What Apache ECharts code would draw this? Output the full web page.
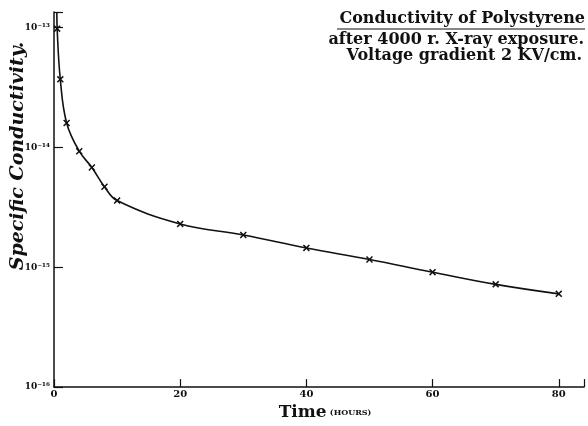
<!DOCTYPE html>
<html><head><meta charset="utf-8">
<script src="https://cdn.jsdelivr.net/npm/echarts@6/dist/echarts.min.js"></script>
<style>html,body{margin:0;padding:0;background:#fff}#c{width:588px;height:426px}</style>
</head><body><div id="c"></div>
<script>
// Time in hours
const times = [0.45, 0.5, 1, 2, 4, 6, 8, 10, 20, 30, 40, 50, 60, 70, 80];
// Specific conductivity (first value = where the drawn curve starts, no marker)
const conductivity = [1.35e-13, 9.8e-14, 3.7e-14, 1.6e-14, 9.3e-15, 6.8e-15, 4.7e-15, 3.6e-15, 2.3e-15, 1.86e-15, 1.45e-15, 1.16e-15, 9.1e-16, 7.2e-16, 6.0e-16];
const markerShown = [false, true, true, true, true, true, true, true, true, true, true, true, true, true, true];
const xTicks = [0, 20, 40, 60, 80];
const yTickExponents = [-16, -15, -14, -13];
const titleLines = ['Conductivity of Polystyrene', 'after 4000 r. X-ray exposure.', 'Voltage gradient 2 KV/cm.'];

const sup = {'-':'\u207B','0':'\u2070','1':'\u00B9','2':'\u00B2','3':'\u00B3','4':'\u2074','5':'\u2075','6':'\u2076','7':'\u2077','8':'\u2078','9':'\u2079'};
const toSup = s => String(s).split('').map(c => sup[c] || c).join('');

const xPath = 'path://M0,1.5L1.5,0L5,3.5L8.5,0L10,1.5L6.5,5L10,8.5L8.5,10L5,6.5L1.5,10L0,8.5L3.5,5Z';
const data = times.map((t, i) => ({
  value: [t, conductivity[i]],
  symbol: markerShown[i] ? xPath : 'none'
}));

const hand = '"DejaVu Serif", serif';
const chart = echarts.init(document.getElementById('c'));
chart.setOption({
  backgroundColor: '#fff',
  animation: false,
  grid: {left: 54, right: 4, top: 12, bottom: 24},
  xAxis: {
    type: 'value', min: 0, max: 84, interval: 20,
    axisLine: {lineStyle: {color: '#111', width: 1.5}},
    axisTick: {inside: true, length: 8, lineStyle: {color: '#111', width: 1.2}},
    splitLine: {show: false},
    axisLabel: {
      color: '#111', fontFamily: hand, fontWeight: 'bold', fontSize: 10, margin: 2,
      formatter: v => xTicks.includes(v) ? String(v) : ''
    },
    name: '{a|Time} {b|(HOURS)}',
    nameLocation: 'middle', nameGap: 9,
    nameTextStyle: {
      rich: {
        a: {fontFamily: hand, fontWeight: 'bold', fontSize: 17, color: '#111', padding: [0, 0, 0, 12]},
        b: {fontFamily: hand, fontWeight: 'bold', fontSize: 8, color: '#111'}
      }
    }
  },
  yAxis: {
    type: 'log', logBase: 10, min: 1e-16, max: 1.349e-13,
    axisLine: {show: true, lineStyle: {color: '#111', width: 1.5}},
    axisTick: {show: true, inside: true, length: 9, lineStyle: {color: '#111', width: 1.2}},
    minorTick: {show: false},
    splitLine: {show: false},
    axisLabel: {
      color: '#111', fontFamily: hand, fontWeight: 'bold', fontSize: 9, margin: 4,
      formatter: v => {
        const l = Math.log10(v);
        const e = Math.round(l);
        return (Math.abs(l - e) < 0.01 && yTickExponents.includes(e)) ? '10' + toSup(e) : '';
      }
    }
  },
  series: [{
    type: 'line',
    data: data,
    smooth: 0.4,
    symbolSize: 7,
    lineStyle: {color: '#111', width: 1.6},
    itemStyle: {color: '#111'}
  }],
  graphic: [
    {type: 'text', x: 18, y: 156, rotation: Math.PI / 2,
     style: {text: 'Specific Conductivity.', fill: '#111', font: 'italic bold 19px ' + hand, align: 'center', verticalAlign: 'middle'}},
    {type: 'text', x: 585, y: 19, style: {text: titleLines[0], fill: '#111', font: 'bold 16px ' + hand, align: 'right', verticalAlign: 'middle'}},
    {type: 'line', shape: {x1: 337, y1: 29, x2: 585, y2: 29}, style: {stroke: '#111', lineWidth: 1.2}},
    {type: 'text', x: 584, y: 40, style: {text: titleLines[1], fill: '#111', font: 'bold 16px ' + hand, align: 'right', verticalAlign: 'middle'}},
    {type: 'text', x: 582, y: 56, style: {text: titleLines[2], fill: '#111', font: 'bold 16px ' + hand, align: 'right', verticalAlign: 'middle'}}
  ]
});
</script></body></html>
